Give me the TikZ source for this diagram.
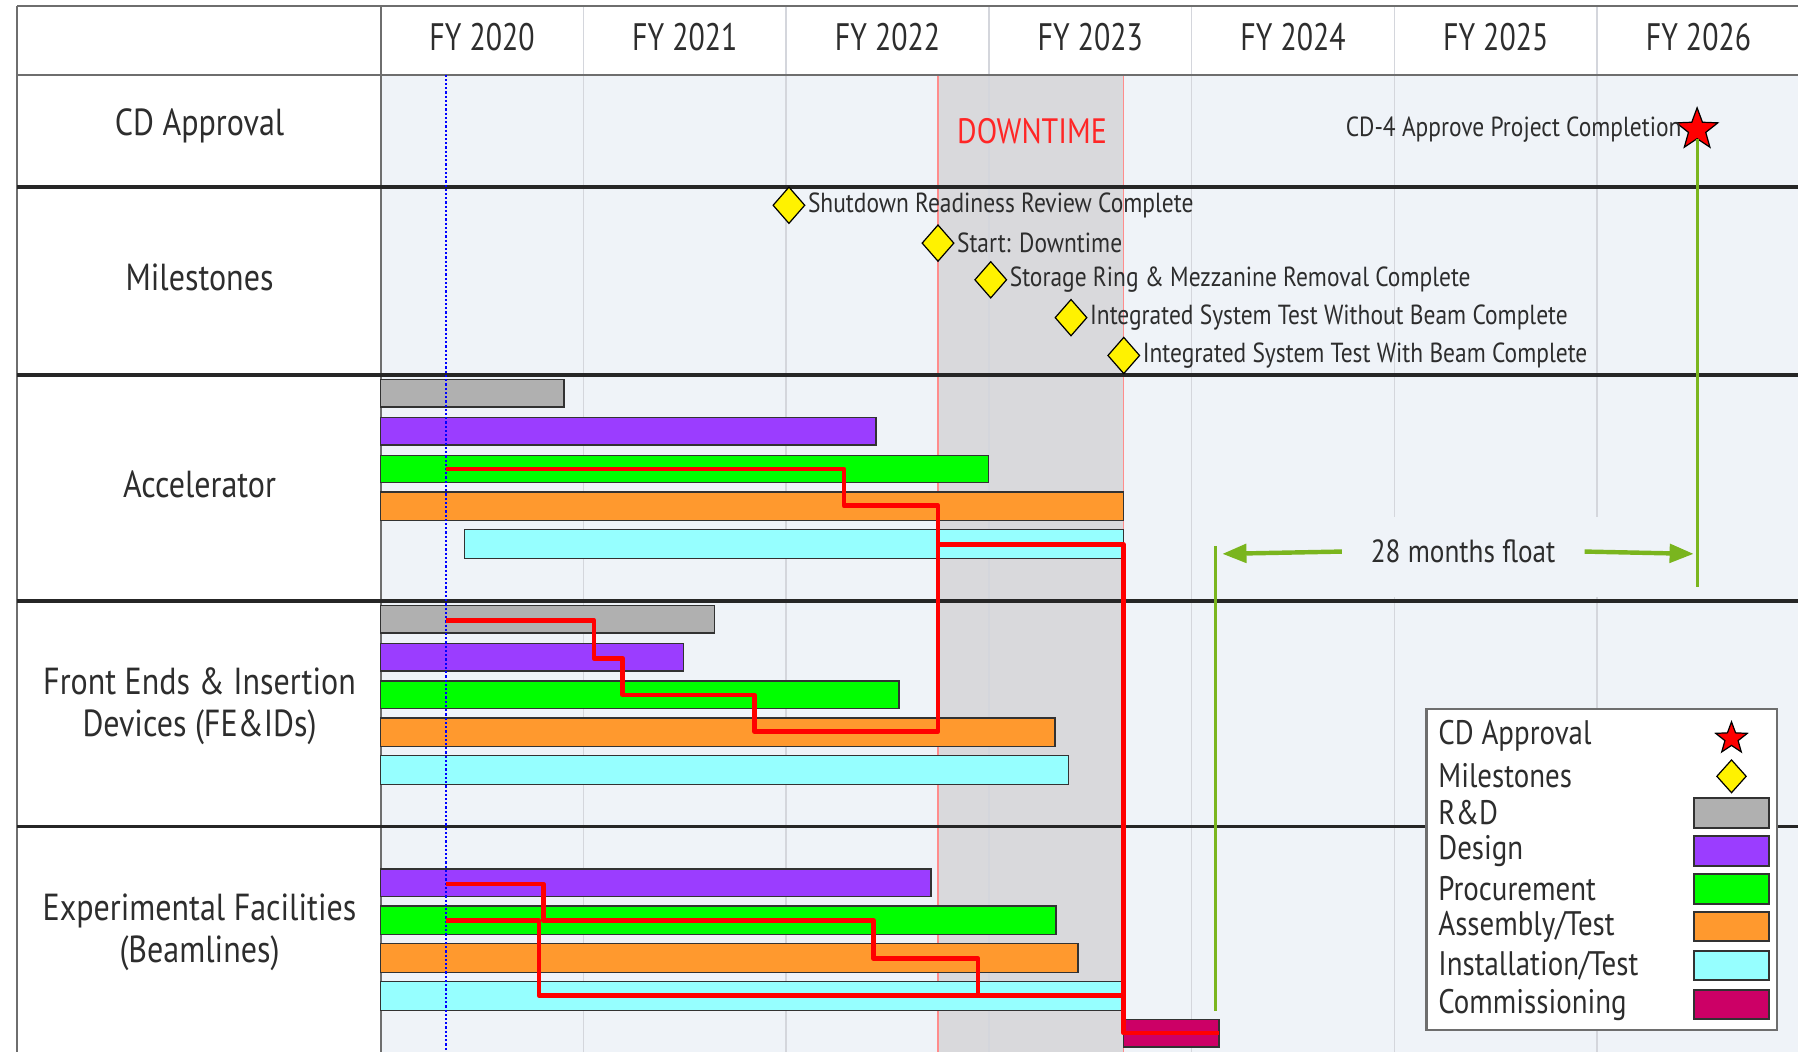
\documentclass[tikz,border=0pt]{standalone}
\usepackage{fontspec}
\setmainfont{PT Sans}[FakeStretch=0.85]
\newfontfamily\yearfont{PT Sans}[FakeStretch=0.78]
\usetikzlibrary{shapes.geometric}
\usetikzlibrary{arrows.meta}

\definecolor{txtgray}{RGB}{45,45,45}
\definecolor{chartbg}{RGB}{239,243,248}
\definecolor{downgray}{RGB}{217,217,220}
\definecolor{gridgray}{RGB}{212,214,220}
\definecolor{framegray}{RGB}{110,110,110}
\definecolor{bardark}{RGB}{50,50,50}
\definecolor{rdcol}{RGB}{176,176,176}
\definecolor{designcol}{RGB}{155,61,255}
\definecolor{proccol}{RGB}{0,255,0}
\definecolor{asmcol}{RGB}{255,153,46}
\definecolor{instcol}{RGB}{150,255,255}
\definecolor{commcol}{RGB}{204,0,102}
\definecolor{floatgreen}{RGB}{122,181,30}

\tikzstyle{every picture}=[x=0.02cm,y=-0.02cm]
\tikzstyle{rowlbl}=[font=\fontsize{18.7}{21}\selectfont, text=txtgray, align=center]
\tikzstyle{yearlbl}=[font=\yearfont\fontsize{19}{21}\selectfont, text=txtgray]
\tikzstyle{mtext}=[anchor=west, font=\fontsize{13.7}{15}\selectfont, text=txtgray, inner sep=1pt]
\tikzstyle{legtext}=[anchor=west, font=\fontsize{16.9}{18}\selectfont, text=txtgray, inner sep=0pt]
\tikzstyle{mstone}=[diamond, draw=black, fill=yellow, inner sep=0pt,
                    minimum width=0.56cm, minimum height=0.64cm, line width=0.6pt]
\tikzstyle{cdstar}=[star, star points=5, star point ratio=2.4, draw=black, fill=red,
                    inner sep=0pt, minimum size=0.76cm, line width=0.6pt]
\tikzstyle{gbar}=[draw=bardark, line width=0.7pt]
\tikzstyle{rdbar}=[gbar, fill=rdcol]
\tikzstyle{designbar}=[gbar, fill=designcol]
\tikzstyle{procbar}=[gbar, fill=proccol]
\tikzstyle{asmbar}=[gbar, fill=asmcol]
\tikzstyle{instbar}=[gbar, fill=instcol]
\tikzstyle{commbar}=[gbar, fill=commcol]
\tikzstyle{critpath}=[draw=red, line width=2.3pt, line join=round]
\tikzstyle{rowline}=[draw=black!85, line width=1.7pt]
\tikzstyle{frameline}=[draw=framegray, line width=1pt]
\tikzstyle{floatline}=[draw=floatgreen, line width=1.4pt]
\tikzstyle{floatarrow}=[draw=floatgreen, line width=2.2pt,
                        -{Triangle[length=0.42cm,width=0.32cm]}]

\begin{document}
\begin{tikzpicture}
  \useasboundingbox (0,0) rectangle (1568,917);
  \fill[white] (0,0) rectangle (1568,917);
  \fill[chartbg] (332,65) rectangle (1568,917);

  % downtime window
  \fill[downgray] (818,65) rectangle (980,917);
  \draw[red!45, line width=0.6pt] (818,65) -- (818,917) (980,65) -- (980,917);

  % fiscal years
  \foreach \k in {1,...,6}
    \draw[gridgray, line width=0.7pt] ({332+176.8*\k},5) -- ({332+176.8*\k},917);
  \fill[chartbg] (1062,451) rectangle (1474,521);
  \foreach \yr [count=\i from 0] in {2020,...,2026}
    \node[yearlbl] (fy\yr) at ({332+176.8*(\i+0.5)},32) {FY \yr};
  \node[font=\fontsize{17.5}{20}\selectfont, text=red!85] (downlbl) at (900,114) {DOWNTIME};

  % table frame
  \draw[frameline] (15,5) -- (1568,5);
  \draw[frameline] (15,5) -- (15,917);
  \draw[frameline] (332,5) -- (332,917);
  \draw[frameline] (15,65) -- (1568,65);
  \foreach \yy in {163,327,524,721}
    \draw[rowline] (15,\yy) -- (1568,\yy);

  \node[rowlbl] (cdlbl) at (174,110) {CD Approval};
  \node[rowlbl] (mslbl) at (174,242) {Milestones};
  \node[rowlbl] (acclbl) at (174,422) {Accelerator};
  \node[rowlbl] (felbl) at (174,616) {Front Ends \& Insertion\\Devices (FE\&IDs)};
  \node[rowlbl] (eflbl) at (174,813) {Experimental Facilities\\(Beamlines)};

  % accelerator
  \draw[rdbar] (332,331) rectangle (492,355);
  \draw[designbar] (332,364) rectangle (764,388);
  \draw[procbar] (332,397) rectangle (862,421);
  \draw[asmbar] (332,429) rectangle (980,454);
  \draw[instbar] (405,462) rectangle (980,487);
  % front ends
  \draw[rdbar] (332,528) rectangle (623,552);
  \draw[designbar] (332,561) rectangle (596,585);
  \draw[procbar] (332,594) rectangle (784,618);
  \draw[asmbar] (332,626) rectangle (920,651);
  \draw[instbar] (332,659) rectangle (932,684);
  % beamlines
  \draw[designbar] (332,758) rectangle (812,782);
  \draw[procbar] (332,790) rectangle (921,815);
  \draw[asmbar] (332,823) rectangle (940,848);
  \draw[instbar] (332,856) rectangle (980,881);
  \draw[commbar] (980,889) rectangle (1063,913);

  % today
  \draw[blue, densely dotted, line width=1.1pt] (389,65) -- (389,917);

  % critical paths
  \draw[critpath] (389,409) -- (736,409) -- (736,441) -- (818,441) -- (818,638)
    -- (658,638) -- (658,606) -- (543,606) -- (543,574) -- (518,574) -- (518,541) -- (389,541);
  \draw[critpath] (818,475) -- (980,475) -- (980,901) -- (1063,901);
  \draw[critpath] (389,771) -- (474,771) -- (474,803) -- (762,803) -- (762,836)
    -- (853,836) -- (853,868);
  \draw[critpath] (389,803) -- (470,803) -- (470,868) -- (980,868);

  % milestones
  \node[mstone] (ms1) at (688,179) {};
  \node[mtext] (ms1t) at (ms1.east) {Shutdown Readiness Review Complete};
  \node[mstone] (ms2) at (818,212) {};
  \node[mtext] (ms2t) at (ms2.east) {Start: Downtime};
  \node[mstone] (ms3) at (864,244) {};
  \node[mtext] (ms3t) at (ms3.east) {Storage Ring \& Mezzanine Removal Complete};
  \node[mstone] (ms4) at (934,277) {};
  \node[mtext] (ms4t) at (ms4.east) {Integrated System Test Without Beam Complete};
  \node[mstone] (ms5) at (980,310) {};
  \node[mtext] (ms5t) at (ms5.east) {Integrated System Test With Beam Complete};

  % CD-4 and float
  \node[cdstar] (cd4) at (1480,113) {};
  \node[mtext, anchor=east] (cd4t) at (cd4.west) {CD-4 Approve Project Completion};
  \coordinate (cdend) at (1480,512);
  \draw[floatline] (cd4.south) -- (cdend);
  \coordinate (ftop) at (1060,476);
  \coordinate (fbot) at (1060,882);
  \draw[floatline] (ftop) -- (fbot);
  \node[font=\fontsize{15.9}{18}\selectfont, text=txtgray, inner xsep=0.5cm] (float) at (1276,481) {28 months float};
  \coordinate (flL) at (1066,483);
  \coordinate (flR) at (1477,483);
  \draw[floatarrow] (float.west) -- (flL);
  \draw[floatarrow] (float.east) -- (flR);

  % legend
  \draw[draw=framegray, fill=white, line width=1pt] (1244,618) rectangle (1550,898);
  \node[legtext] (lgcd) at (1254,642) {CD Approval};
  \node[cdstar, minimum size=0.58cm] (lgstar) at (1510,644) {};
  \node[legtext] (lgms) at (1254,676) {Milestones};
  \node[mstone, minimum width=0.52cm, minimum height=0.58cm] (lgdia) at (1510,677) {};
  \foreach \st/\nm/\yy [count=\i] in {rdbar/R\&D/709, designbar/Design/742,
      procbar/Procurement/775, asmbar/Assembly\slash Test/808,
      instbar/Installation\slash Test/842, commbar/Commissioning/876} {
    \node[legtext] (lg\i) at (1254,\yy) {\nm};
    \draw[\st, line width=1pt] (1477,\yy-13) rectangle (1543,\yy+13);
  }
\end{tikzpicture}
\end{document}
